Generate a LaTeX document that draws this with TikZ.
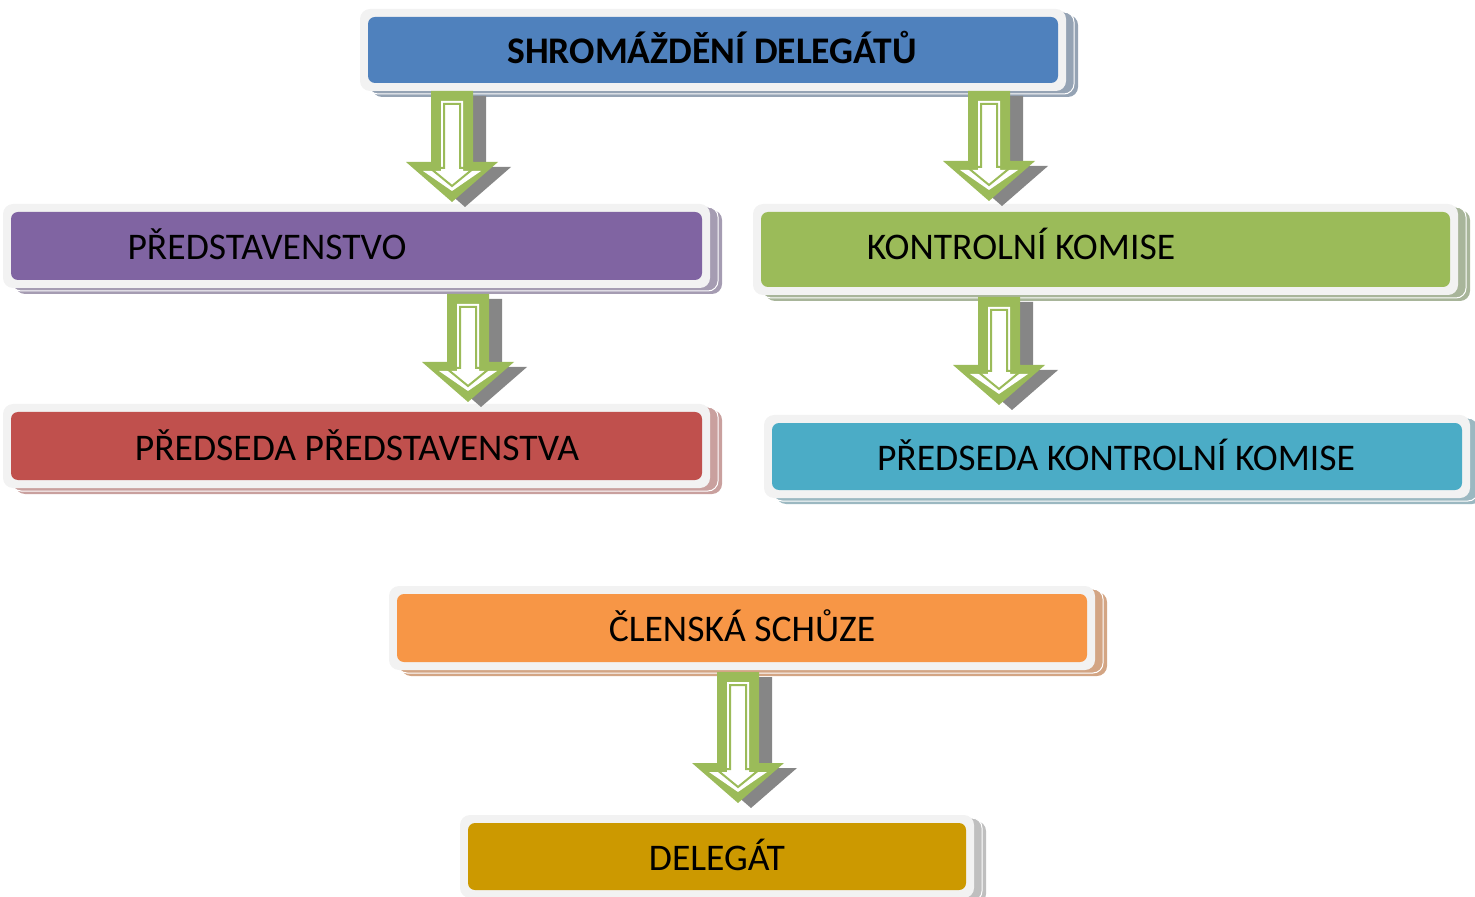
\documentclass[tikz,border=0pt]{standalone}
\usepackage{fontspec}
\setmainfont{Carlito}
\usepackage{xcolor}
\usepackage{tikz}
\definecolor{framegray}{HTML}{F2F2F2}
\definecolor{arrowgreen}{HTML}{9BBB59}
\definecolor{arrowgray}{HTML}{868686}
\definecolor{cblue}{HTML}{4F81BD}
\definecolor{sblue}{HTML}{95A3B4}
\definecolor{cpurple}{HTML}{8064A2}
\definecolor{spurple}{HTML}{A59CB2}
\definecolor{cgreen}{HTML}{9BBB59}
\definecolor{sgreen}{HTML}{A8B59A}
\definecolor{cred}{HTML}{C0504D}
\definecolor{sred}{HTML}{C9A09E}
\definecolor{ccyan}{HTML}{4BACC6}
\definecolor{scyan}{HTML}{9BB8C1}
\definecolor{corange}{HTML}{F79646}
\definecolor{sorange}{HTML}{D3A584}
\definecolor{cgold}{HTML}{CC9900}
\definecolor{sgold}{HTML}{BFBFBF}

\newcommand\orgbox[6]{%
	\fill[#6, rounded corners=5pt] (#1+4,#2-2) rectangle (#3+20,#4+14);
	\filldraw[#6, draw=white, line width=.5pt, rounded corners=5pt] (#1,#2-5) rectangle (#3+16,#4+11);
	\fill[framegray, rounded corners=5pt] (#1-8,#2-8) rectangle (#3+8,#4+8);
	\fill[#5, rounded corners=3.5pt] (#1,#2) rectangle (#3,#4);
}

\tikzset{
	boxtext/.style={anchor=base, inner sep=0pt, font=\fontsize{18.8}{22}\selectfont},
	pics/flowarrow/.style={code={
		\fill[arrowgray] (-8,5) -- (34,5) -- (34,#1-35) -- (59,#1-35) -- (13,#1+5) -- (-33,#1-35) -- (-8,#1-35) -- cycle;
		\fill[arrowgreen] (-21,0) -- (21,0) -- (21,#1-40) -- (46,#1-40) -- (0,#1) -- (-46,#1-40) -- (-21,#1-40) -- cycle;
		\fill[white] (-11,10) -- (11,10) -- (11,#1-31) -- (29,#1-31) -- (0,#1-11) -- (-29,#1-31) -- (-11,#1-31) -- cycle;
		\draw[arrowgreen, line width=1pt] (-8,13) -- (8,13) -- (8,#1-34) -- (22,#1-34) -- (0,#1-16) -- (-22,#1-34) -- (-8,#1-34) -- cycle;
	}}
}

\begin{document}
\begin{tikzpicture}[x=0.5pt, y=-0.5pt]
	\useasboundingbox (0,0) rectangle (1475,897);
	\orgbox{368}{17}{1058}{83}{cblue}{sblue}
	\orgbox{11}{212}{702}{280}{cpurple}{spurple}
	\orgbox{761}{212}{1450}{287}{cgreen}{sgreen}
	\orgbox{11}{412}{702}{480}{cred}{sred}
	\orgbox{772}{423}{1462}{490}{ccyan}{scyan}
	\orgbox{397}{594}{1087}{662}{corange}{sorange}
	\orgbox{468}{823}{966}{890}{cgold}{sgold}

	\node[boxtext, font=\fontsize{18.8}{22}\selectfont\bfseries] (sd) at (712,64) {SHROMÁŽDĚNÍ DELEGÁTŮ};
	\node[boxtext] (pr) at (267,260) {PŘEDSTAVENSTVO};
	\node[boxtext] (kk) at (1021,260) {KONTROLNÍ KOMISE};
	\node[boxtext] (pp) at (357,460) {PŘEDSEDA PŘEDSTAVENSTVA};
	\node[boxtext] (pk) at (1116,470) {PŘEDSEDA KONTROLNÍ KOMISE};
	\node[boxtext] (cs) at (742,641) {ČLENSKÁ SCHŮZE};
	\node[boxtext] (dl) at (717,870) {DELEGÁT};

	\pic at (452,91) {flowarrow=111};
	\pic at (989,91) {flowarrow=110};
	\pic at (468,294) {flowarrow=108};
	\pic at (999,297) {flowarrow=108};
	\pic at (738,672) {flowarrow=131};
\end{tikzpicture}
\end{document}
